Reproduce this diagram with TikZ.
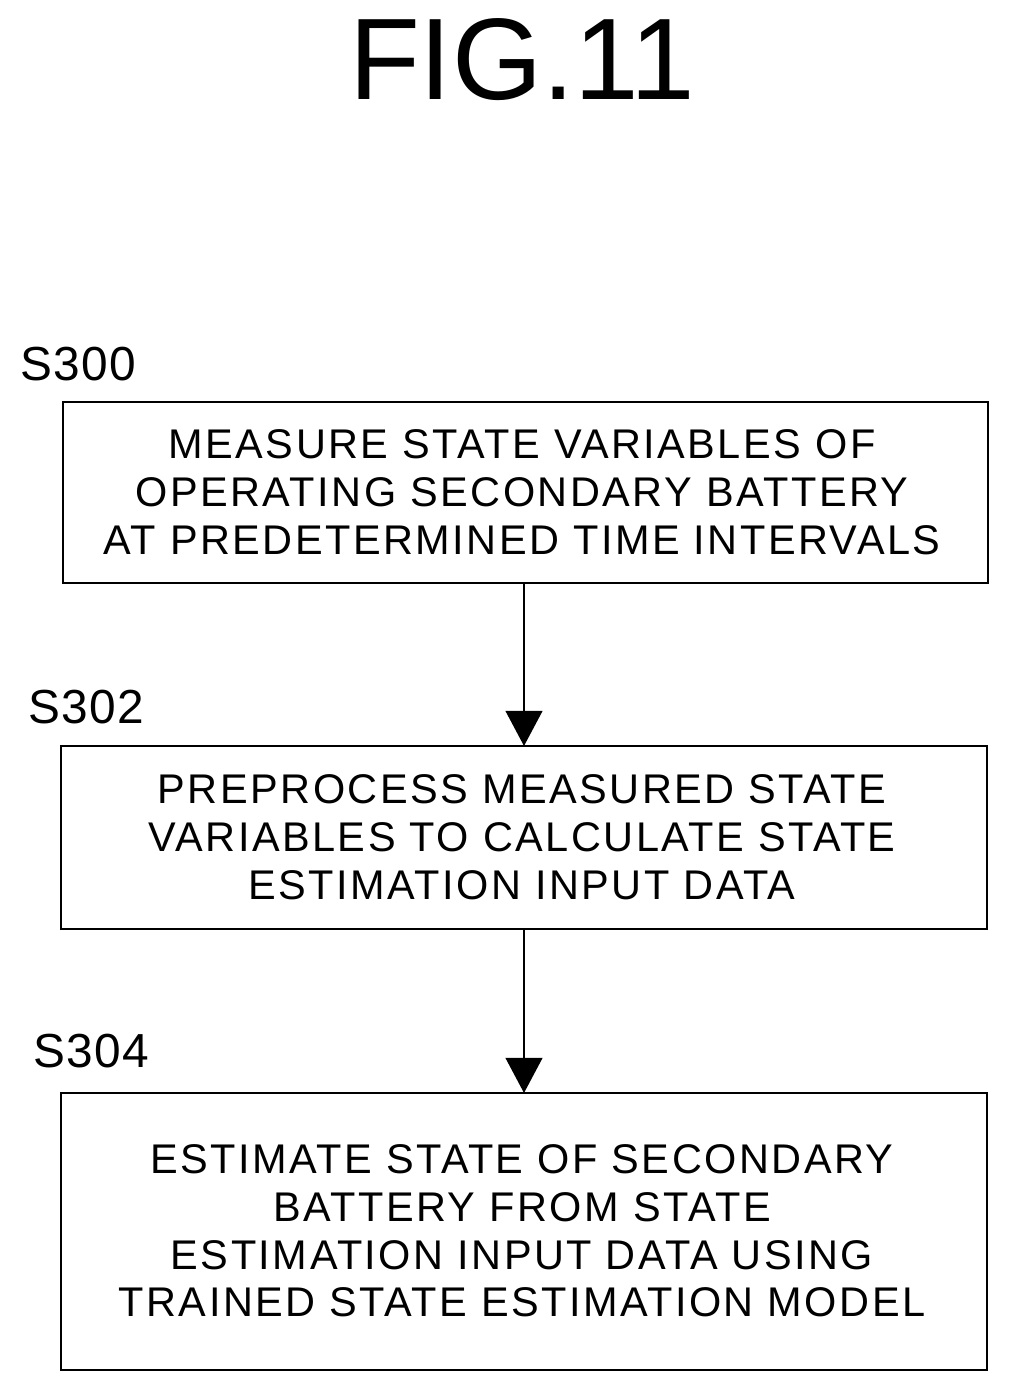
\documentclass[tikz,border=0pt]{standalone}
\usepackage{fontspec}
\setmainfont{Liberation Sans}
\newfontfamily\spacedfont[LetterSpace=6]{Liberation Sans}
\newfontfamily\labfont[LetterSpace=3]{Liberation Sans}
\usetikzlibrary{arrows.meta}
\begin{document}
\begin{tikzpicture}[x=0.05cm,y=-0.05cm,
  stepbox/.style={draw,line width=2.8pt,rectangle},
  boxtext/.style={align=center,font=\spacedfont\fontsize{59}{68}\selectfont},
  lab/.style={anchor=base west,font=\labfont\fontsize{68}{70}\selectfont},
  conn/.style={line width=4pt,-{Triangle[width=52pt,length=50pt]}}]
\useasboundingbox (0,0) rectangle (1009,1392);
\node[font=\fontsize{165}{165}\selectfont] (title) at (522,60) {FIG.11};
\draw[stepbox] (63,402) rectangle (988,583);
\coordinate (b1) at (522,492);
\node[boxtext] (t1) at (b1) {MEASURE STATE VARIABLES OF\\OPERATING SECONDARY BATTERY\\AT PREDETERMINED TIME INTERVALS};
\draw[stepbox] (61,746) rectangle (987,929);
\coordinate (b2) at (522,837);
\node[boxtext] (t2) at (b2) {PREPROCESS MEASURED STATE\\VARIABLES TO CALCULATE STATE\\ESTIMATION INPUT DATA};
\draw[stepbox] (61,1093) rectangle (987,1370);
\coordinate (b3) at (522,1231);
\node[boxtext] (t3) at (b3) {ESTIMATE STATE OF SECONDARY\\BATTERY FROM STATE\\ESTIMATION INPUT DATA USING\\TRAINED STATE ESTIMATION MODEL};
\node[lab] (s1) at (18,380) {S300};
\node[lab] (s2) at (26,723) {S302};
\node[lab] (s3) at (31,1067) {S304};
\coordinate (a1s) at (524,583);
\coordinate (a1e) at (524,746);
\coordinate (a2s) at (524,929);
\coordinate (a2e) at (524,1093);
\draw[conn] (a1s) -- (a1e);
\draw[conn] (a2s) -- (a2e);
\end{tikzpicture}
\end{document}
